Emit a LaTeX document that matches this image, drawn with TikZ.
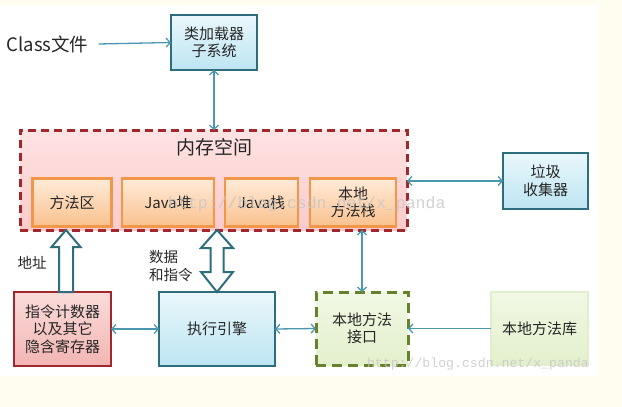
\documentclass[tikz,border=0pt]{standalone}
\usepackage{fontspec}
\setmainfont{Noto Sans CJK SC}
\newfontfamily\wmfont{Liberation Mono}
\usetikzlibrary{arrows.meta,calc,positioning}
\definecolor{bgcream}{HTML}{FFFDF0}
\definecolor{tealdark}{HTML}{2E6E7C}
\definecolor{tealline}{HTML}{4A98AE}
\definecolor{blueA}{HTML}{EAF7FB}
\definecolor{blueB}{HTML}{BDE5F2}
\definecolor{memred}{HTML}{A0282D}
\definecolor{memA}{HTML}{FFE3E3}
\definecolor{memB}{HTML}{FBCACA}
\definecolor{orgline}{HTML}{F2974A}
\definecolor{orgA}{HTML}{FFEBD8}
\definecolor{orgB}{HTML}{FAC18E}
\definecolor{pcA}{HTML}{FADCDA}
\definecolor{pcB}{HTML}{F2B5B3}
\definecolor{olive}{HTML}{67822A}
\definecolor{grnA}{HTML}{F1F8E4}
\definecolor{grnB}{HTML}{E3F0CC}
\definecolor{grnline}{HTML}{E2EFCF}

\newcommand\hollowup[2]{% #1 foot, #2 tip
  \draw[hollow] let \p1=(#1), \p2=(#2) in
    (\x1-7pt,\y1) -- (\x1-7pt,\y2-17pt) -- (\x1-14.5pt,\y2-17pt) -- (\x1,\y2)
    -- (\x1+14.5pt,\y2-17pt) -- (\x1+7pt,\y2-17pt) -- (\x1+7pt,\y1) -- cycle;}
\newcommand\hollowboth[2]{% #1 lower tip, #2 upper tip
  \draw[hollow] let \p1=(#1), \p2=(#2) in
    (\x1,\y1) -- (\x1-16pt,\y1+20pt) -- (\x1-6.5pt,\y1+20pt) -- (\x1-6.5pt,\y2-18pt)
    -- (\x1-16pt,\y2-18pt) -- (\x1,\y2) -- (\x1+16pt,\y2-18pt) -- (\x1+6.5pt,\y2-18pt)
    -- (\x1+6.5pt,\y1+20pt) -- (\x1+16pt,\y1+20pt) -- cycle;}

\tikzset{
  box/.style={draw, line width=2.5pt, inner sep=0pt, outer sep=0pt, align=center,
    text=black!85, font=\fontsize{15}{17.5}\selectfont},
  bluebox/.style={box, draw=tealdark, top color=blueA, bottom color=blueB},
  orgbox/.style={box, draw=orgline, top color=orgA, bottom color=orgB, minimum height=48pt},
  redbox/.style={box, draw=memred, top color=pcA, bottom color=pcB},
  memarea/.style={draw=memred, line width=3pt, dash pattern=on 8pt off 5pt,
    top color=memA, bottom color=memB, inner sep=0pt, outer sep=0pt},
  nibox/.style={box, draw=olive, line width=3pt, dash pattern=on 10pt off 6pt,
    top color=grnA, bottom color=grnB},
  libbox/.style={box, draw=grnline, top color=grnA, bottom color=grnB},
  conn/.style={draw=tealline, line width=1.3pt},
  hollow/.style={draw=tealdark, line width=2pt, fill=white, line join=miter},
  lbl/.style={font=\fontsize{14.5}{17.5}\selectfont, text=black!85, inner sep=0pt, align=left},
  wmark/.style={text=gray!45, opacity=0.8, inner sep=0pt}
}

\begin{document}
\begin{tikzpicture}[x=1pt, y=-1pt, >={Straight Barb[length=4pt,width=9pt]}]
  \fill[bgcream] (0,0) rectangle (622,407);
  \fill[white] (0,5) rectangle (598,376);
  \useasboundingbox (0,0) rectangle (622,407);

  % top row
  \node[font=\fontsize{18.5}{20}\selectfont, text=black!85, inner sep=0pt] (cls) at (47.5,44) {Class文件};
  \node[bluebox, minimum width=86pt, minimum height=55pt] (loader) at (214,42.5) {类加载器\\子系统};

  % memory area
  \node[memarea, minimum width=387pt, minimum height=100pt] (mem) at (213.5,180) {};
  \node[font=\fontsize{19}{20}\selectfont, text=black!85, inner sep=0pt] (memtitle) at (214,147) {内存空间};
  \node[orgbox, minimum width=79pt] (method) at (72,202.5) {方法区};
  \node[orgbox, minimum width=92pt] (heap) at (168,202.5) {Java堆};
  \node[orgbox, minimum width=73pt] (jstack) at (261.5,202.5) {Java栈};
  \node[orgbox, minimum width=86pt] (nstack) at (353,202.5) {本地\\方法栈};
  \node[bluebox, minimum width=85pt, minimum height=56pt] (gc) at (545.5,181) {垃圾\\收集器};

  % bottom row
  \node[redbox, minimum width=97pt, minimum height=74pt] (pc) at (62.5,329) {指令计数器\\以及其它\\隐含寄存器};
  \node[bluebox, minimum width=116pt, minimum height=74pt] (exec) at (217,329) {执行引擎};
  \node[nibox, minimum width=92pt, minimum height=73pt] (ni) at (362,328.5) {本地方法\\接口};
  \node[libbox, minimum width=97pt, minimum height=73pt] (nlib) at (539.5,328.5) {本地方法库};

  \node[lbl] (addr) at (32,263) {地址};
  \node[lbl, anchor=west] (data) at (149,266) {数据\\和指令};

  % connectors
  \draw[conn,->] ([xshift=10pt]cls.east) -- (loader.west);
  \draw[conn,<->] (loader.south) -- (mem.north -| loader.south);
  \draw[conn,<->] (mem.east |- gc.west) -- (gc.west);
  \draw[conn,<->] (ni.north |- mem.south) -- (ni.north);
  \draw[conn,<->] (pc.east) -- (exec.west);
  \draw[conn,<->] (exec.east) -- (ni.west);
  \draw[conn,->] (nlib.west) -- (ni.east);

  \hollowup{$(pc.north)+(3.5,0)$}{$(pc.north |- mem.south)+(3.5,0)$}
  \hollowboth{exec.north}{exec.north |- mem.south}

  % watermarks
  \node[wmark, anchor=west, font=\wmfont\fontsize{16.5}{16.5}\selectfont] (wm1) at (168,204) {http://blog.csdn.net/x\_panda};
  \node[wmark, anchor=east, font=\wmfont\fontsize{13.2}{13.2}\selectfont] (wm2) at (589,364) {http://blog.csdn.net/x\_panda};
\end{tikzpicture}
\end{document}
